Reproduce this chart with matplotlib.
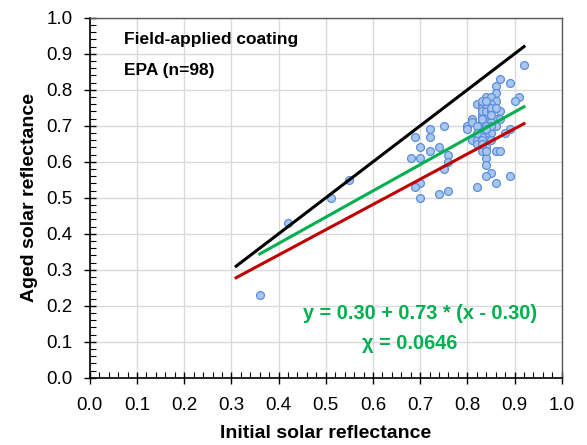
import matplotlib
matplotlib.use('Agg')
import matplotlib.pyplot as plt
from matplotlib.ticker import MultipleLocator

plt.rcParams['font.family'] = ['Liberation Sans', 'DejaVu Sans']

# measured points (initial, aged)
initial = [0.36, 0.42, 0.51, 0.55, 0.92, 0.87, 0.89, 0.86, 0.86, 0.84,
           0.85, 0.86, 0.91, 0.90, 0.82, 0.83, 0.85, 0.83, 0.84, 0.87,
           0.83, 0.84, 0.81, 0.83, 0.84, 0.85, 0.86, 0.87, 0.84, 0.80,
           0.81, 0.75, 0.72, 0.80, 0.83, 0.84, 0.86, 0.89, 0.88, 0.83,
           0.84, 0.85, 0.69, 0.72, 0.84, 0.81, 0.82, 0.84, 0.82, 0.70,
           0.74, 0.83, 0.72, 0.86, 0.87, 0.76, 0.68, 0.70, 0.84, 0.76,
           0.84, 0.75, 0.85, 0.84, 0.89, 0.70, 0.69, 0.86, 0.82, 0.74,
           0.76, 0.70,
           0.83, 0.84, 0.85, 0.83, 0.84, 0.85, 0.83, 0.84, 0.82, 0.83,
           0.84, 0.85, 0.83, 0.84, 0.85, 0.86, 0.83, 0.84, 0.85, 0.82,
           0.83, 0.84, 0.85, 0.84, 0.83, 0.84]
aged = [0.23, 0.43, 0.50, 0.55, 0.87, 0.83, 0.82, 0.81, 0.79, 0.78,
        0.78, 0.77, 0.78, 0.77, 0.76, 0.76, 0.76, 0.75, 0.75, 0.74,
        0.73, 0.73, 0.72, 0.72, 0.72, 0.72, 0.72, 0.72, 0.71, 0.70,
        0.71, 0.70, 0.69, 0.69, 0.70, 0.70, 0.70, 0.69, 0.68, 0.68,
        0.68, 0.68, 0.67, 0.67, 0.67, 0.66, 0.66, 0.66, 0.65, 0.64,
        0.64, 0.63, 0.63, 0.63, 0.63, 0.62, 0.61, 0.61, 0.61, 0.60,
        0.59, 0.58, 0.57, 0.56, 0.56, 0.54, 0.53, 0.54, 0.53, 0.51,
        0.52, 0.50,
        0.74, 0.74, 0.74, 0.71, 0.71, 0.71, 0.69, 0.69, 0.70, 0.67,
        0.76, 0.75, 0.72, 0.70, 0.73, 0.75, 0.77, 0.77, 0.70, 0.68,
        0.66, 0.64, 0.66, 0.63, 0.65, 0.69]

# reference lines
one_x = [0.31, 0.92]
one_y = [0.31, 0.92]
fit_x = [0.36, 0.92]
fit_y = [0.344, 0.753]
low_x = [0.31, 0.92]
low_y = [0.278, 0.706]

fig = plt.figure(figsize=(5.87, 4.45), dpi=100)
ax = fig.add_axes([0.153, 0.151, 0.804, 0.809])

ax.plot(one_x, one_y, color='black', lw=2.2, zorder=3)
ax.plot(low_x, low_y, color='#c00000', lw=2.2, zorder=3)
ax.plot(fit_x, fit_y, color='#00b050', lw=2.2, zorder=3)
ax.scatter(initial, aged, s=32, facecolor='#a9c6ef', edgecolor='#5b8edb',
           linewidth=0.9, zorder=2)

ax.set_xlim(0, 1)
ax.set_ylim(0, 1)
ax.xaxis.set_major_locator(MultipleLocator(0.1))
ax.yaxis.set_major_locator(MultipleLocator(0.1))
ax.xaxis.set_minor_locator(MultipleLocator(0.02))
ax.yaxis.set_minor_locator(MultipleLocator(0.02))
ax.xaxis.set_major_formatter(lambda v, p: f'{v:.1f}')
ax.yaxis.set_major_formatter(lambda v, p: f'{v:.1f}')
ax.tick_params(which='major', direction='inout', length=9, width=1.0,
               labelsize=13.5, top=False, right=False)
ax.tick_params(axis='x', which='major', pad=9)
ax.tick_params(axis='y', which='major', pad=8)
ax.tick_params(which='minor', direction='in', length=4, width=0.8,
               top=False, right=False)
ax.grid(True, which='major', color='#d9d9d9', lw=1.0, zorder=0)
ax.set_axisbelow(True)
for s in ['top', 'right']:
    ax.spines[s].set_color('#595959')
    ax.spines[s].set_linewidth(1.0)
for s in ['left', 'bottom']:
    ax.spines[s].set_linewidth(1.2)

ax.set_xlabel('Initial solar reflectance', fontsize=14, fontweight='bold', labelpad=8)
ax.set_ylabel('Aged solar reflectance', fontsize=14, fontweight='bold', labelpad=6)

ax.text(0.073, 0.939, 'Field-applied coating', fontsize=12.5, fontweight='bold',
        va='center', ha='left')
ax.text(0.073, 0.853, 'EPA (n=98)', fontsize=12.5, fontweight='bold',
        va='center', ha='left')
ax.text(0.70, 0.18, 'y = 0.30 + 0.73 * (x - 0.30)', fontsize=14.3, fontweight='bold',
        color='#00b050', ha='center', va='center')
ax.text(0.678, 0.094, 'χ = 0.0646', fontsize=14.3, fontweight='bold',
        color='#00b050', ha='center', va='center')

fig.savefig('out.png', dpi=100)
